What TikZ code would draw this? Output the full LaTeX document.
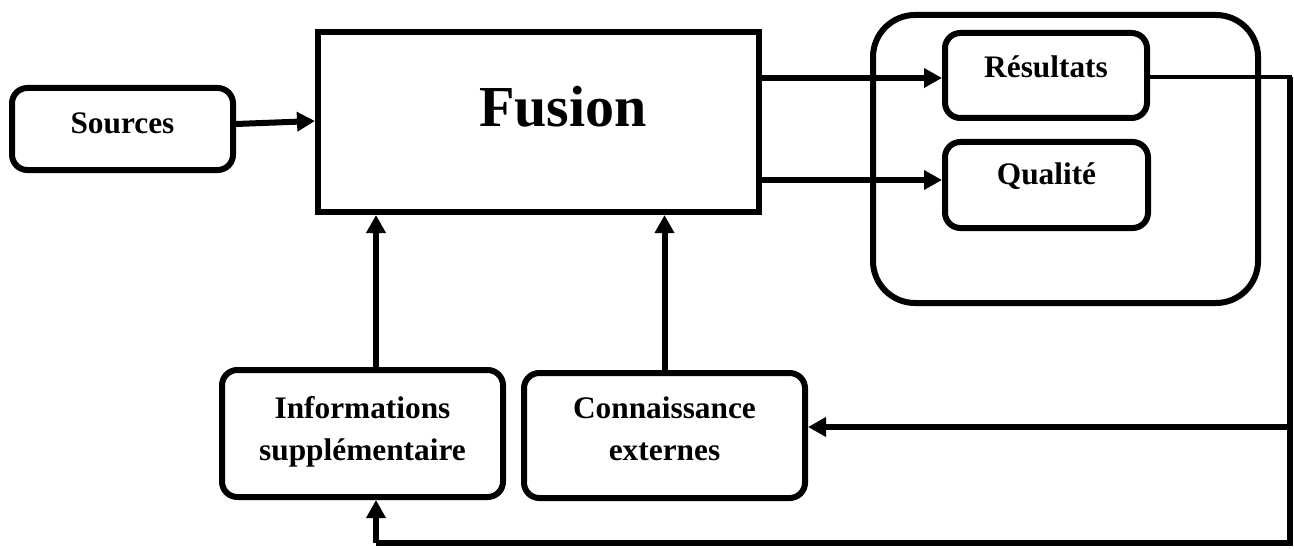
\documentclass[tikz,border=0pt]{standalone}
\usepackage{fontspec}
\setmainfont{Liberation Serif}
\usetikzlibrary{arrows.meta}

\begin{document}
\begin{tikzpicture}[x=0.75pt, y=-0.75pt,
  heavy/.style={line width=4.5pt},
  light/.style={line width=2.5pt},
  arr/.style={heavy, -{Triangle[length=13.5pt, width=14pt]}},
  rbox/.style={draw, heavy, rounded corners=11.5pt, inner sep=0pt, align=center,
    font=\bfseries\fontsize{23.5}{31.5}\selectfont},
  fusionbox/.style={draw, heavy, inner sep=0pt,
    font=\bfseries\fontsize{43.5}{50}\selectfont},
  frame/.style={draw, heavy, rounded corners=31.5pt, inner sep=0pt}]

\useasboundingbox (0,0) rectangle (1294,549);

% main blocks
\node[rbox, minimum width=221*0.75pt, minimum height=82*0.75pt,
      text height=16pt, text depth=10pt] (sources) at (122.5,129) {Sources};
\node[fusionbox, minimum width=441*0.75pt, minimum height=180*0.75pt,
      text height=30pt, text depth=22.5pt] (fusion) at (538.5,122) {\hspace*{36.75pt}Fusion};

% output group
\node[frame, minimum width=385*0.75pt, minimum height=288*0.75pt] (group) at (1065.5,159) {};
\node[rbox, minimum width=202*0.75pt, minimum height=85*0.75pt,
      text height=16.5pt, text depth=12.75pt] (res) at (1046,75.5) {Résultats};
\node[rbox, minimum width=203*0.75pt, minimum height=86*0.75pt,
      text height=16.5pt, text depth=16.5pt] (qual) at (1046.5,185) {Qualité};

% lower inputs
\node[rbox, minimum width=281*0.75pt, minimum height=127*0.75pt,
      text height=47.5pt, text depth=7.75pt] (info) at (362.5,433.5) {Informations\\supplémentaire};
\node[rbox, minimum width=281*0.75pt, minimum height=125*0.75pt,
      text height=47.5pt, text depth=10.75pt] (conn) at (664.5,435.5) {Connaissance\\externes};

% feedback route
\coordinate (tr) at (1290,77);
\coordinate (tap) at (1290,427);
\coordinate (br) at (1290,543);
\coordinate (bl) at (376,543);

% connectors
\draw[arr] (sources.east |- 0,124) -- (fusion.west |- 0,121);
\draw[arr] (fusion.east |- 0,78) -- (res.west |- 0,78);
\draw[arr] (fusion.east |- 0,180) -- (qual.west |- 0,180);
\draw[arr] (info.north -| bl) -- (fusion.south -| bl);
\draw[arr] (conn.north) -- (fusion.south -| conn.north);

\draw[light] (res.east |- tr) -- ([xshift=1.5pt]tr);
\draw[heavy] (tr) -- (br) -- (bl);
\draw[arr] (bl) -- (info.south -| bl);
\draw[arr] (tap) -- (conn.east |- tap);

\end{tikzpicture}
\end{document}
